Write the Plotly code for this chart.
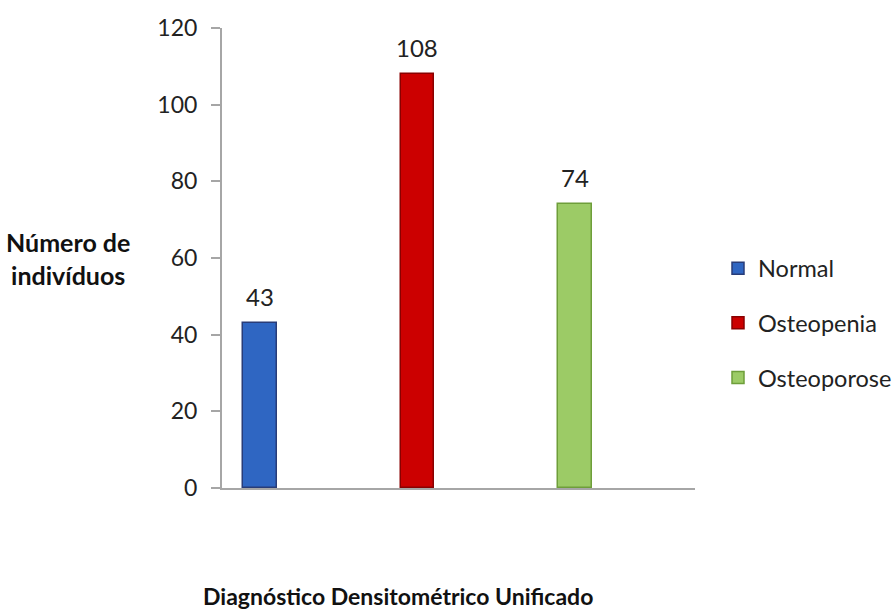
import plotly.graph_objects as go

categories = ["Normal", "Osteopenia", "Osteoporose"]
values = [43, 108, 74]
fill_colors = ["#2F66C2", "#CC0000", "#9CCB66"]
line_colors = ["#283C78", "#8A0000", "#6E9E3A"]
y_ticks = [0, 20, 40, 60, 80, 100, 120]

FONT = "Lato, Open Sans, sans-serif"

fig = go.Figure()
for i, (cat, val) in enumerate(zip(categories, values)):
    fig.add_trace(go.Bar(
        x=[cat], y=[val], name=cat, legendgroup=cat,
        width=0.21,
        marker=dict(color=fill_colors[i], line=dict(color=line_colors[i], width=1.5)),
        showlegend=True,
    ))
    fig.add_annotation(x=cat, y=val, text=str(val), showarrow=False,
                       yanchor="bottom", yshift=10,
                       font=dict(family=FONT, size=24, color="#222222"))

fig.add_annotation(xref="paper", yref="paper", x=-0.326, y=0.499,
                   text="<b>Número de<br>indivíduos</b>", showarrow=False,
                   xanchor="center", yanchor="middle", align="center",
                   font=dict(family=FONT, size=25, color="#111111"))

fig.add_annotation(xref="paper", yref="paper", x=0.372, y=-0.235,
                   text="<b>Diagnóstico Densitométrico Unificado</b>", showarrow=False,
                   xanchor="center", yanchor="middle",
                   font=dict(family=FONT, size=23, color="#111111"))

fig.update_layout(
    width=895, height=610,
    margin=dict(l=222, r=200, t=28, b=122),
    paper_bgcolor="white", plot_bgcolor="white",
    bargap=0,
    barmode="overlay",
    font=dict(family=FONT, size=24, color="#222222"),
    legend=dict(xref="container", yref="container", x=718 / 895, y=1 - 323 / 610,
                xanchor="left", yanchor="middle",
                tracegroupgap=21, font=dict(family=FONT, size=23.5, color="#222222"),
                traceorder="grouped"),
    xaxis=dict(type="category", categoryorder="array", categoryarray=categories,
               range=[-0.241, 2.762], showticklabels=False, ticks="",
               showline=True, linecolor="#A6A6A6", linewidth=2, showgrid=False,
               zeroline=False),
    yaxis=dict(range=[0, 120], tickvals=y_ticks, ticks="outside", ticklen=9,
               tickcolor="#A6A6A6", tickwidth=1.5,
               showline=True, linecolor="#A6A6A6", linewidth=2,
               showgrid=False, zeroline=False, ticklabelstandoff=9,
               tickfont=dict(family=FONT, size=23, color="#222222")),
)
fig.write_html("out.html")
